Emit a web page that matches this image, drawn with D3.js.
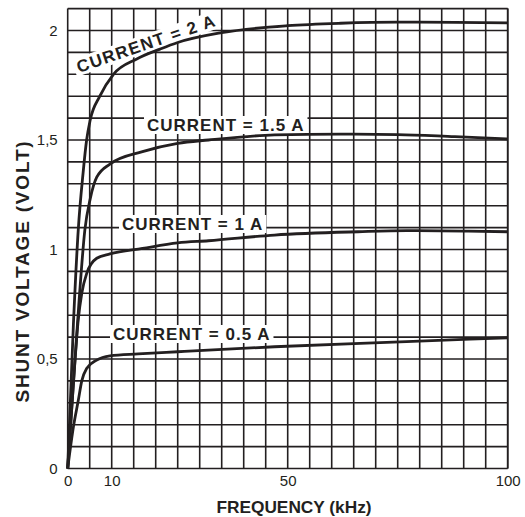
<!DOCTYPE html>
<html><head><meta charset="utf-8">
<script src="https://cdn.jsdelivr.net/npm/d3@7"></script>
<style>
html,body{margin:0;padding:0;background:#fff;}
svg{display:block;}
</style></head>
<body>
<svg id="chart" width="525" height="517"></svg>
<script>
// ---- data ----
const freq2A   = [0, 1.3, 2.4, 3.5, 4.3, 5.1, 7.3, 10.4, 15.7, 21, 25, 35, 50, 62, 75, 88, 100];
const volt2A   = [0, 0.66, 1.09, 1.35, 1.50, 1.59, 1.70, 1.80, 1.87, 1.915, 1.945, 1.99, 2.022, 2.033, 2.038, 2.037, 2.035];
const freq15A  = [0, 1.2, 2.6, 3.9, 5.1, 6.6, 9.6, 17, 25, 32, 47, 62, 75, 88, 100];
const volt15A  = [0, 0.36, 0.77, 1.09, 1.23, 1.33, 1.39, 1.447, 1.485, 1.50, 1.523, 1.527, 1.525, 1.515, 1.505];
const freq1A   = [0, 1.2, 2.4, 3.2, 4.3, 6.6, 9.6, 17, 25, 32, 47, 66, 77, 90, 100];
const volt1A   = [0, 0.36, 0.68, 0.80, 0.89, 0.96, 0.98, 1.005, 1.03, 1.04, 1.066, 1.081, 1.086, 1.084, 1.081];
const freq05A  = [0, 1.3, 2.4, 3.2, 4.3, 6.6, 9.6, 16, 25, 47, 77, 100];
const volt05A  = [0, 0.19, 0.31, 0.40, 0.457, 0.495, 0.514, 0.523, 0.533, 0.556, 0.579, 0.597];
const seriesLabels = ["CURRENT = 2 A", "CURRENT = 1.5 A", "CURRENT = 1 A", "CURRENT = 0.5 A"];
const xTickValues = [0, 10, 50, 100];
const yTickValues = [0, 0.5, 1, 1.5, 2];
const xTitle = "FREQUENCY (kHz)";
const yTitle = "SHUNT VOLTAGE (VOLT)";

// ---- layout ----
const svg = d3.select("#chart");
const x = d3.scaleLinear().domain([0, 100]).range([67.7, 507.7]);
const y = d3.scaleLinear().domain([0, 2.1]).range([468.5, 8.6]);
const ink = "#231f20";
const sans = "Liberation Sans, Arial, sans-serif";

// grid
const gx = d3.range(0, 21).map(i => i * 5).concat([100]);
const gy = d3.range(0, 22).map(i => +(i * 0.1).toFixed(1));
const grid = svg.append("g").attr("stroke", ink).attr("stroke-width", 1.6);
grid.selectAll("line.v").data(gx).join("line").attr("class", "v")
  .attr("x1", d => x(d)).attr("x2", d => x(d)).attr("y1", y(0)).attr("y2", y(2.1));
grid.selectAll("line.h").data(gy).join("line").attr("class", "h")
  .attr("y1", d => y(d)).attr("y2", d => y(d)).attr("x1", x(0)).attr("x2", x(100));

// axes
const fmt = d => d3.format("~g")(d).replace(".", ",");
const xAxis = svg.append("g").attr("transform", `translate(0,${y(0)})`)
  .call(d3.axisBottom(x).tickValues(xTickValues).tickSize(0).tickPadding(7).tickFormat(fmt));
const yAxis = svg.append("g").attr("transform", `translate(${x(0)},0)`)
  .call(d3.axisLeft(y).tickValues(yTickValues).tickSize(0).tickPadding(10).tickFormat(fmt));
[xAxis, yAxis].forEach(a => {
  a.select(".domain").remove();
  a.selectAll("text").attr("font-family", sans).attr("font-size", 15).attr("fill", ink);
});

// titles
svg.append("text").attr("x", 294).attr("y", 513).attr("text-anchor", "middle")
  .attr("font-family", sans).attr("font-weight", "bold")
  .attr("font-size", 17.3).attr("fill", ink).text(xTitle);
svg.append("text").attr("transform", "translate(28.5,271) rotate(-90)").attr("text-anchor", "middle")
  .attr("font-family", sans).attr("font-weight", "bold")
  .attr("font-size", 19).attr("letter-spacing", 1.8).attr("fill", ink).text(yTitle);

// label positions (left x, baseline y, rotation, letter spacing)
const labelPos = [
  {x: 79, y: 73, r: -19, ls: 1.4},
  {x: 147, y: 131, r: 0, ls: 1.0},
  {x: 122, y: 230, r: 0, ls: 1.0},
  {x: 113, y: 340, r: 0, ls: 1.0}
];

const bgLayer = svg.append("g");
const curveLayer = svg.append("g");
const textLayer = svg.append("g");

seriesLabels.forEach((t, i) => {
  const p = labelPos[i];
  const g = textLayer.append("g").attr("transform", `translate(${p.x},${p.y}) rotate(${p.r})`);
  const txt = g.append("text").attr("x", 0).attr("y", 0)
    .attr("font-family", sans).attr("font-weight", "bold")
    .attr("font-size", 17).attr("letter-spacing", p.ls)
    .attr("fill", ink).text(t);
  const bb = txt.node().getBBox();
  bgLayer.append("rect").attr("transform", `translate(${p.x},${p.y}) rotate(${p.r})`)
    .attr("x", bb.x - 3).attr("y", -15).attr("width", bb.width + 6).attr("height", 18).attr("fill", "#fff");
});

// curves
const line = d3.line().x(d => x(d[0])).y(d => y(d[1])).curve(d3.curveMonotoneX);
const series = [[freq2A, volt2A], [freq15A, volt15A], [freq1A, volt1A], [freq05A, volt05A]];
curveLayer.selectAll("path").data(series).join("path")
  .attr("d", s => line(s[0].map((f, i) => [f, s[1][i]])))
  .attr("fill", "none").attr("stroke", ink).attr("stroke-width", 2.8).attr("stroke-linejoin", "round");
</script>
</body></html>
